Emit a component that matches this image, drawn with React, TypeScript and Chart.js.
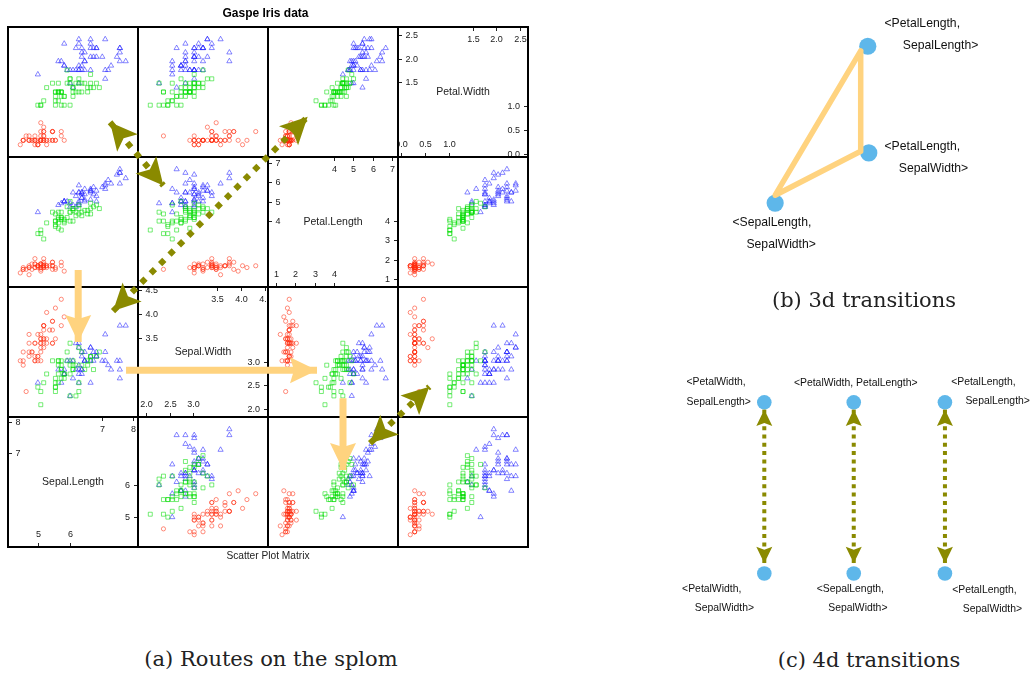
import React, { useEffect, useRef } from 'react';
import { Chart, registerables } from 'chart.js';

Chart.register(...registerables);

const SANS = '"Liberation Sans", Arial, Helvetica, sans-serif';
const SERIF = '"DejaVu Serif", "Liberation Serif", serif';

/* ---------------- Gaspé iris data (50 setosa, 50 versicolor, 50 virginica) ---------------- */
const SPECIES = ['setosa', 'versicolor', 'virginica'];
const SPECIES_SIZE = 50;

const SEPAL_LENGTH = [
  5.1, 4.9, 4.7, 4.6, 5.0, 5.4, 4.6, 5.0, 4.4, 4.9,
  5.4, 4.8, 4.8, 4.3, 5.8, 5.7, 5.4, 5.1, 5.7, 5.1,
  5.4, 5.1, 4.6, 5.1, 4.8, 5.0, 5.0, 5.2, 5.2, 4.7,
  4.8, 5.4, 5.2, 5.5, 4.9, 5.0, 5.5, 4.9, 4.4, 5.1,
  5.0, 4.5, 4.4, 5.0, 5.1, 4.8, 5.1, 4.6, 5.3, 5.0,
  7.0, 6.4, 6.9, 5.5, 6.5, 5.7, 6.3, 4.9, 6.6, 5.2,
  5.0, 5.9, 6.0, 6.1, 5.6, 6.7, 5.6, 5.8, 6.2, 5.6,
  5.9, 6.1, 6.3, 6.1, 6.4, 6.6, 6.8, 6.7, 6.0, 5.7,
  5.5, 5.5, 5.8, 6.0, 5.4, 6.0, 6.7, 6.3, 5.6, 5.5,
  5.5, 6.1, 5.8, 5.0, 5.6, 5.7, 5.7, 6.2, 5.1, 5.7,
  6.3, 5.8, 7.1, 6.3, 6.5, 7.6, 4.9, 7.3, 6.7, 7.2,
  6.5, 6.4, 6.8, 5.7, 5.8, 6.4, 6.5, 7.7, 7.7, 6.0,
  6.9, 5.6, 7.7, 6.3, 6.7, 7.2, 6.2, 6.1, 6.4, 7.2,
  7.4, 7.9, 6.4, 6.3, 6.1, 7.7, 6.3, 6.4, 6.0, 6.9,
  6.7, 6.9, 5.8, 6.8, 6.7, 6.7, 6.3, 6.5, 6.2, 5.9,
];

const SEPAL_WIDTH = [
  3.5, 3.0, 3.2, 3.1, 3.6, 3.9, 3.4, 3.4, 2.9, 3.1,
  3.7, 3.4, 3.0, 3.0, 4.0, 4.4, 3.9, 3.5, 3.8, 3.8,
  3.4, 3.7, 3.6, 3.3, 3.4, 3.0, 3.4, 3.5, 3.4, 3.2,
  3.1, 3.4, 4.1, 4.2, 3.1, 3.2, 3.5, 3.6, 3.0, 3.4,
  3.5, 2.3, 3.2, 3.5, 3.8, 3.0, 3.8, 3.2, 3.7, 3.3,
  3.2, 3.2, 3.1, 2.3, 2.8, 2.8, 3.3, 2.4, 2.9, 2.7,
  2.0, 3.0, 2.2, 2.9, 2.9, 3.1, 3.0, 2.7, 2.2, 2.5,
  3.2, 2.8, 2.5, 2.8, 2.9, 3.0, 2.8, 3.0, 2.9, 2.6,
  2.4, 2.4, 2.7, 2.7, 3.0, 3.4, 3.1, 2.3, 3.0, 2.5,
  2.6, 3.0, 2.6, 2.3, 2.7, 3.0, 2.9, 2.9, 2.5, 2.8,
  3.3, 2.7, 3.0, 2.9, 3.0, 3.0, 2.5, 2.9, 2.5, 3.6,
  3.2, 2.7, 3.0, 2.5, 2.8, 3.2, 3.0, 3.8, 2.6, 2.2,
  3.2, 2.8, 2.8, 2.7, 3.3, 3.2, 2.8, 3.0, 2.8, 3.0,
  2.8, 3.8, 2.8, 2.8, 2.6, 3.0, 3.4, 3.1, 3.0, 3.1,
  3.1, 3.1, 2.7, 3.2, 3.3, 3.0, 2.5, 3.0, 3.4, 3.0,
];

const PETAL_LENGTH = [
  1.4, 1.4, 1.3, 1.5, 1.4, 1.7, 1.4, 1.5, 1.4, 1.5,
  1.5, 1.6, 1.4, 1.1, 1.2, 1.5, 1.3, 1.4, 1.7, 1.5,
  1.7, 1.5, 1.0, 1.7, 1.9, 1.6, 1.6, 1.5, 1.4, 1.6,
  1.6, 1.5, 1.5, 1.4, 1.5, 1.2, 1.3, 1.5, 1.3, 1.5,
  1.3, 1.3, 1.3, 1.6, 1.9, 1.4, 1.6, 1.4, 1.5, 1.4,
  4.7, 4.5, 4.9, 4.0, 4.6, 4.5, 4.7, 3.3, 4.6, 3.9,
  3.5, 4.2, 4.0, 4.7, 3.6, 4.4, 4.5, 4.1, 4.5, 3.9,
  4.8, 4.0, 4.9, 4.7, 4.3, 4.4, 4.8, 5.0, 4.5, 3.5,
  3.8, 3.7, 3.9, 5.1, 4.5, 4.5, 4.7, 4.4, 4.1, 4.0,
  4.4, 4.6, 4.0, 3.3, 4.2, 4.2, 4.2, 4.3, 3.0, 4.1,
  6.0, 5.1, 5.9, 5.6, 5.8, 6.6, 4.5, 6.3, 5.8, 6.1,
  5.1, 5.3, 5.5, 5.0, 5.1, 5.3, 5.5, 6.7, 6.9, 5.0,
  5.7, 4.9, 6.7, 4.9, 5.7, 6.0, 4.8, 4.9, 5.6, 5.8,
  6.1, 6.4, 5.6, 5.1, 5.6, 6.1, 5.6, 5.5, 4.8, 5.4,
  5.6, 5.1, 5.1, 5.9, 5.7, 5.2, 5.0, 5.2, 5.4, 5.1,
];

const PETAL_WIDTH = [
  0.2, 0.2, 0.2, 0.2, 0.2, 0.4, 0.3, 0.2, 0.2, 0.1,
  0.2, 0.2, 0.1, 0.1, 0.2, 0.4, 0.4, 0.3, 0.3, 0.3,
  0.2, 0.4, 0.2, 0.5, 0.2, 0.2, 0.4, 0.2, 0.2, 0.2,
  0.2, 0.4, 0.1, 0.2, 0.1, 0.2, 0.2, 0.1, 0.2, 0.2,
  0.3, 0.3, 0.2, 0.6, 0.4, 0.3, 0.2, 0.2, 0.2, 0.2,
  1.4, 1.5, 1.5, 1.3, 1.5, 1.3, 1.6, 1.0, 1.3, 1.4,
  1.0, 1.5, 1.0, 1.4, 1.3, 1.4, 1.5, 1.0, 1.5, 1.1,
  1.8, 1.3, 1.5, 1.2, 1.3, 1.4, 1.4, 1.7, 1.5, 1.0,
  1.1, 1.0, 1.2, 1.6, 1.5, 1.6, 1.5, 1.3, 1.3, 1.3,
  1.2, 1.4, 1.2, 1.0, 1.3, 1.2, 1.3, 1.3, 1.1, 1.3,
  2.5, 1.9, 2.1, 1.8, 2.2, 2.1, 1.7, 1.8, 1.8, 2.5,
  2.0, 1.9, 2.1, 2.0, 2.4, 2.3, 1.8, 2.2, 2.3, 1.5,
  2.3, 2.0, 2.0, 1.8, 2.1, 1.8, 1.8, 1.8, 2.1, 1.6,
  1.9, 2.0, 2.2, 1.5, 1.4, 2.3, 2.4, 1.8, 1.8, 2.1,
  2.4, 2.3, 1.9, 2.3, 2.5, 2.3, 1.9, 2.0, 2.3, 1.8,
];

const VARIABLES = ['Sepal.Length', 'Sepal.Width', 'Petal.Length', 'Petal.Width'];
const VARIABLE_VALUES = [SEPAL_LENGTH, SEPAL_WIDTH, PETAL_LENGTH, PETAL_WIDTH];
// Diagonal-panel tick labels: lower half (bottom/right) and upper half (top/left)
const TICKS_LOWER = [['5', '6'], ['2.0', '2.5', '3.0'], ['1', '2', '3', '4'], ['0.0', '0.5', '1.0']];
const TICKS_UPPER = [['7', '8'], ['3.5', '4.0', '4.5'], ['4', '5', '6', '7'], ['1.5', '2.0', '2.5']];
const AXIS_PADDING = 0.07;

/* ---------------- routes drawn on the splom (units: panel columns / rows from top-left) ---------------- */
const ROUTES_4D_FROM = [[0.785, 0.733], [0.808, 2.185], [2.785, 3.202]];
const ROUTES_4D_TO = [[1.195, 1.219], [2.305, 0.690], [3.241, 2.767]];
const ROUTES_3D_FROM = [[0.540, 1.869], [0.908, 2.640], [2.577, 2.856]];
const ROUTES_3D_TO = [[0.540, 2.423], [2.377, 2.640], [2.577, 3.408]];

/* ---------------- (b) 3d transitions ---------------- */
const NODES_3D_X = [5.32, 5.35, 2.57];
const NODES_3D_Y = [8.62, 4.71, 2.87];
const NODES_3D_LABELS = [
  ['<PetalLength,', 'SepalLength>'],
  ['<PetalLength,', 'SepalWidth>'],
  ['<SepalLength,', 'SepalWidth>'],
];
const EDGES_3D_X = [5.11, 5.11, 2.57, 5.11];
const EDGES_3D_Y = [8.45, 4.77, 3.16, 8.45];

/* ---------------- (c) 4d transitions ---------------- */
const NODES_4D_X = [2.49, 5.05, 7.66, 2.49, 5.05, 7.66];
const NODES_4D_Y = [8.52, 8.52, 8.52, 2.19, 2.19, 2.19];
const NODES_4D_LABELS = [
  ['<PetalWidth,', 'SepalLength>'],
  ['<PetalWidth, PetalLength>'],
  ['<PetalLength,', 'SepalLength>'],
  ['<PetalWidth,', 'SepalWidth>'],
  ['<SepalLength,', 'SepalWidth>'],
  ['<PetalLength,', 'SepalWidth>'],
];
const TRANSITIONS_4D_X = [2.49, 5.05, 7.66];
const TRANSITIONS_4D_TOP = 8.25;
const TRANSITIONS_4D_BOTTOM = 2.57;

/* ---------------- styles / layout ---------------- */
const GRID_LEFT = 8;
const GRID_TOP = 27;
const CELL = 130;
const ROW_VARS = [3, 2, 1, 0];

const SPECIES_COLORS = ['rgba(255,45,15,0.6)', 'rgba(0,220,0,0.6)', 'rgba(30,30,255,0.6)'];
const SPECIES_SHAPES = ['circle', 'rect', 'triangle'];
const SPECIES_RADII = [2.1, 2.8, 3.0];
const OLIVE = '#8A8A00';
const YELLOW = '#FFD37F';
const NODE_BLUE = '#5EB7EA';

const LABEL_OFFSETS_3D = [
  [[16.7, -22.7], [35, -0.7]],
  [[15.7, -6.3], [30, 15.4]],
  [[-42.7, 19.3], [-28.7, 41.3]],
];
const LABEL_OFFSETS_4D = [
  [[-77.8, -20.3], [-77.8, -0.6]],
  [[-59.8, -19.6]],
  [[6.2, -20.3], [20.5, -1.6]],
  [[-82.2, 16], [-69.5, 35]],
  [[-37.1, 16], [-25.5, 35]],
  [[7.2, 16.6], [17.9, 35.6]],
];

const LIMITS = VARIABLE_VALUES.map((vals) => {
  const lo = Math.min(...vals);
  const hi = Math.max(...vals);
  const pad = (hi - lo) * AXIS_PADDING;
  return [lo - pad, hi + pad];
});

/* ---------------- helpers ---------------- */
function drawHead(ctx: CanvasRenderingContext2D, tx: number, ty: number, fx: number, fy: number, a: any) {
  const dx = tx - fx;
  const dy = ty - fy;
  const d = Math.hypot(dx, dy) || 1;
  const ux = dx / d;
  const uy = dy / d;
  const px = -uy;
  const py = ux;
  const bx = tx - ux * a.length;
  const by = ty - uy * a.length;
  ctx.beginPath();
  ctx.moveTo(tx, ty);
  ctx.lineTo(bx + px * a.halfWidth, by + py * a.halfWidth);
  ctx.lineTo(tx - ux * (a.length - a.notch), ty - uy * (a.length - a.notch));
  ctx.lineTo(bx - px * a.halfWidth, by - py * a.halfWidth);
  ctx.closePath();
  ctx.fill();
}

const arrowHeadsPlugin = {
  id: 'arrowHeads',
  afterDatasetsDraw(chart: any) {
    const ctx = chart.ctx as CanvasRenderingContext2D;
    chart.data.datasets.forEach((ds: any, i: number) => {
      if (!ds.arrow) return;
      const pts = chart.getDatasetMeta(i).data;
      const a = pts[0];
      const b = pts[pts.length - 1];
      ctx.save();
      ctx.fillStyle = ds.borderColor;
      if (ds.arrow.start) drawHead(ctx, a.x, a.y, b.x, b.y, ds.arrow);
      if (ds.arrow.end) drawHead(ctx, b.x, b.y, a.x, a.y, ds.arrow);
      ctx.restore();
    });
  },
};

function baseOptions(extra: any) {
  return {
    responsive: false,
    animation: false,
    events: [],
    layout: { padding: 0 },
    plugins: { legend: { display: false }, tooltip: { enabled: false }, title: { display: false } },
    ...extra,
  };
}

function scatterPanelConfig(xv: number, yv: number): any {
  const datasets = SPECIES.map((sp, s) => {
    const data = [];
    for (let k = s * SPECIES_SIZE; k < (s + 1) * SPECIES_SIZE; k++) {
      data.push({ x: VARIABLE_VALUES[xv][k], y: VARIABLE_VALUES[yv][k] });
    }
    return {
      label: sp,
      data,
      showLine: false,
      pointStyle: SPECIES_SHAPES[s],
      pointRadius: SPECIES_RADII[s],
      pointBorderWidth: 0.9,
      borderColor: SPECIES_COLORS[s],
      backgroundColor: 'rgba(0,0,0,0)',
    };
  });
  return {
    type: 'scatter',
    data: { datasets },
    options: baseOptions({
      scales: {
        x: { type: 'linear', display: false, min: LIMITS[xv][0], max: LIMITS[xv][1] },
        y: { type: 'linear', display: false, min: LIMITS[yv][0], max: LIMITS[yv][1] },
      },
    }),
  };
}

function diagonalConfig(v: number): any {
  const TICK = 4;
  const plugin = {
    id: 'diagonalAxes',
    afterDraw(chart: any) {
      const ctx = chart.ctx as CanvasRenderingContext2D;
      const a = chart.chartArea;
      const x = chart.scales.x;
      const y = chart.scales.y;
      ctx.save();
      ctx.strokeStyle = '#222';
      ctx.fillStyle = '#222';
      ctx.lineWidth = 1;
      ctx.font = `9px ${SANS}`;
      ctx.textBaseline = 'middle';
      for (const lab of TICKS_LOWER[v]) {
        const val = parseFloat(lab);
        const px = Math.round(x.getPixelForValue(val)) + 0.5;
        ctx.beginPath();
        ctx.moveTo(px, a.bottom);
        ctx.lineTo(px, a.bottom - TICK);
        ctx.stroke();
        ctx.textAlign = 'center';
        ctx.fillText(lab, px, a.bottom - 12);
        const py = Math.round(y.getPixelForValue(val)) + 0.5;
        ctx.beginPath();
        ctx.moveTo(a.right, py);
        ctx.lineTo(a.right - TICK, py);
        ctx.stroke();
        ctx.textAlign = 'right';
        ctx.fillText(lab, a.right - 8, py);
      }
      for (const lab of TICKS_UPPER[v]) {
        const val = parseFloat(lab);
        const px = Math.round(x.getPixelForValue(val)) + 0.5;
        ctx.beginPath();
        ctx.moveTo(px, a.top);
        ctx.lineTo(px, a.top + TICK);
        ctx.stroke();
        ctx.textAlign = 'center';
        ctx.fillText(lab, px, a.top + 12.5);
        const py = Math.round(y.getPixelForValue(val)) + 0.5;
        ctx.beginPath();
        ctx.moveTo(a.left, py);
        ctx.lineTo(a.left + TICK, py);
        ctx.stroke();
        ctx.textAlign = 'left';
        ctx.fillText(lab, a.left + 7.5, py);
      }
      ctx.font = `10.5px ${SANS}`;
      ctx.textAlign = 'center';
      ctx.fillText(VARIABLES[v], (a.left + a.right) / 2, (a.top + a.bottom) / 2);
      ctx.restore();
    },
  };
  return {
    type: 'scatter',
    data: { datasets: [] },
    options: baseOptions({
      scales: {
        x: { type: 'linear', display: false, min: LIMITS[v][0], max: LIMITS[v][1] },
        y: { type: 'linear', display: false, min: LIMITS[v][0], max: LIMITS[v][1] },
      },
    }),
    plugins: [plugin],
  };
}

function overlayConfig(): any {
  const yellow = ROUTES_3D_FROM.map((f, i) => ({
    data: [{ x: f[0], y: f[1] }, { x: ROUTES_3D_TO[i][0], y: ROUTES_3D_TO[i][1] }],
    showLine: true,
    borderColor: YELLOW,
    borderWidth: 7,
    pointRadius: 0,
    clip: false,
    arrow: { start: false, end: true, length: 27, halfWidth: 13, notch: 4 },
  }));
  const olive = ROUTES_4D_FROM.map((f, i) => ({
    data: [{ x: f[0], y: f[1] }, { x: ROUTES_4D_TO[i][0], y: ROUTES_4D_TO[i][1] }],
    showLine: true,
    borderColor: OLIVE,
    borderWidth: 6,
    borderDash: [6, 7.3],
    borderCapStyle: 'butt',
    pointRadius: 0,
    clip: false,
    arrow: { start: true, end: true, length: 27, halfWidth: 13.5, notch: 6 },
  }));
  const gridPlugin = {
    id: 'splomGrid',
    beforeDatasetsDraw(chart: any) {
      const ctx = chart.ctx as CanvasRenderingContext2D;
      const x = chart.scales.x;
      const y = chart.scales.y;
      ctx.save();
      ctx.strokeStyle = '#000';
      ctx.lineWidth = 2;
      for (let i = 0; i <= VARIABLES.length; i++) {
        const px = x.getPixelForValue(i);
        const py = y.getPixelForValue(i);
        ctx.beginPath();
        ctx.moveTo(px, y.getPixelForValue(0) - 1);
        ctx.lineTo(px, y.getPixelForValue(VARIABLES.length) + 1);
        ctx.stroke();
        ctx.beginPath();
        ctx.moveTo(x.getPixelForValue(0) - 1, py);
        ctx.lineTo(x.getPixelForValue(VARIABLES.length) + 1, py);
        ctx.stroke();
      }
      ctx.restore();
    },
  };
  return {
    type: 'scatter',
    data: { datasets: [...yellow, ...olive] },
    options: baseOptions({
      layout: { padding: { left: GRID_LEFT, top: GRID_TOP, right: 540 - GRID_LEFT - 4 * CELL, bottom: 575 - GRID_TOP - 4 * CELL } },
      scales: {
        x: { type: 'linear', display: false, min: 0, max: VARIABLES.length },
        y: { type: 'linear', display: false, min: 0, max: VARIABLES.length, reverse: true },
      },
    }),
    plugins: [gridPlugin, arrowHeadsPlugin],
  };
}

function nodeLabelPlugin(labels: string[][], offsets: number[][][], fontSize: number, nodeDataset: number) {
  return {
    id: 'nodeLabels',
    afterDraw(chart: any) {
      const ctx = chart.ctx as CanvasRenderingContext2D;
      const pts = chart.getDatasetMeta(nodeDataset).data;
      ctx.save();
      ctx.fillStyle = '#111';
      ctx.font = `${fontSize}px ${SANS}`;
      ctx.textAlign = 'left';
      ctx.textBaseline = 'middle';
      labels.forEach((lines, i) => {
        lines.forEach((t, j) => {
          const off = offsets[i][j];
          ctx.fillText(t, pts[i].x + off[0], pts[i].y + off[1]);
        });
      });
      ctx.restore();
    },
  };
}

function transitions3dConfig(): any {
  return {
    type: 'scatter',
    data: {
      datasets: [
        {
          data: EDGES_3D_X.map((x, i) => ({ x, y: EDGES_3D_Y[i] })),
          showLine: true,
          borderColor: YELLOW,
          borderWidth: 5.5,
          borderJoinStyle: 'round',
          borderCapStyle: 'round',
          pointRadius: 0,
          clip: false,
        },
        {
          data: NODES_3D_X.map((x, i) => ({ x, y: NODES_3D_Y[i] })),
          pointRadius: 8.6,
          pointBorderWidth: 0,
          backgroundColor: NODE_BLUE,
          borderColor: NODE_BLUE,
          clip: false,
        },
      ],
    },
    options: baseOptions({
      scales: {
        x: { type: 'linear', display: false, min: 0, max: 10 },
        y: { type: 'linear', display: false, min: 0, max: 10 },
      },
    }),
    plugins: [nodeLabelPlugin(NODES_3D_LABELS, LABEL_OFFSETS_3D, 12.2, 1)],
  };
}

function transitions4dConfig(): any {
  const arrows = TRANSITIONS_4D_X.map((x) => ({
    data: [{ x, y: TRANSITIONS_4D_TOP }, { x, y: TRANSITIONS_4D_BOTTOM }],
    showLine: true,
    borderColor: OLIVE,
    borderWidth: 4,
    borderDash: [4, 4.3],
    borderCapStyle: 'butt',
    pointRadius: 0,
    clip: false,
    arrow: { start: true, end: true, length: 16.5, halfWidth: 8, notch: 3 },
  }));
  return {
    type: 'scatter',
    data: {
      datasets: [
        {
          data: NODES_4D_X.map((x, i) => ({ x, y: NODES_4D_Y[i] })),
          pointRadius: 7.3,
          pointBorderWidth: 0,
          backgroundColor: NODE_BLUE,
          borderColor: NODE_BLUE,
          clip: false,
        },
        ...arrows,
      ],
    },
    options: baseOptions({
      scales: {
        x: { type: 'linear', display: false, min: 0, max: 10 },
        y: { type: 'linear', display: false, min: 0, max: 10 },
      },
    }),
    plugins: [arrowHeadsPlugin, nodeLabelPlugin(NODES_4D_LABELS, LABEL_OFFSETS_4D, 10.4, 0)],
  };
}

/* ---------------- components ---------------- */
function ChartCanvas({ left, top, width, height, make }: { left: number; top: number; width: number; height: number; make: () => any }) {
  const ref = useRef<HTMLCanvasElement>(null);
  useEffect(() => {
    const chart = new Chart(ref.current as HTMLCanvasElement, make());
    return () => chart.destroy();
  }, []);
  return (
    <canvas
      ref={ref}
      width={width}
      height={height}
      style={{ position: 'absolute', left, top, width, height }}
    />
  );
}

function TextAt({ cx, cy, font, color, children }: { cx: number; cy: number; font: string; color?: string; children: React.ReactNode }) {
  return (
    <div
      style={{
        position: 'absolute',
        left: cx - 250,
        top: cy - 20,
        width: 500,
        height: 40,
        font,
        lineHeight: '40px',
        textAlign: 'center',
        whiteSpace: 'nowrap',
        color: color || '#111',
      }}
    >
      {children}
    </div>
  );
}

export default function App() {
  const panels: React.ReactNode[] = [];
  for (let r = 0; r < VARIABLES.length; r++) {
    for (let c = 0; c < VARIABLES.length; c++) {
      const yv = ROW_VARS[r];
      const xv = c;
      panels.push(
        <ChartCanvas
          key={`p${r}-${c}`}
          left={GRID_LEFT + c * CELL}
          top={GRID_TOP + r * CELL}
          width={CELL}
          height={CELL}
          make={() => (xv === yv ? diagonalConfig(xv) : scatterPanelConfig(xv, yv))}
        />
      );
    }
  }
  return (
    <div style={{ position: 'absolute', left: 0, top: 0, width: 1034, height: 675, background: '#fff', overflow: 'hidden' }}>
      {panels}
      <ChartCanvas left={0} top={0} width={540} height={575} make={overlayConfig} />
      <TextAt cx={265.5} cy={13} font={`bold 12px ${SANS}`} color="#000">Gaspe Iris data</TextAt>
      <TextAt cx={268} cy={556} font={`10.2px ${SANS}`} color="#222">Scatter Plot Matrix</TextAt>
      <TextAt cx={271} cy={659} font={`21px ${SERIF}`} color="#222">(a) Routes on the splom</TextAt>

      <ChartCanvas left={680} top={0} width={354} height={290} make={transitions3dConfig} />
      <TextAt cx={864} cy={300} font={`21px ${SERIF}`} color="#222">(b) 3d transitions</TextAt>

      <ChartCanvas left={670} top={355} width={364} height={285} make={transitions4dConfig} />
      <TextAt cx={869} cy={660} font={`21px ${SERIF}`} color="#222">(c) 4d transitions</TextAt>
    </div>
  );
}
